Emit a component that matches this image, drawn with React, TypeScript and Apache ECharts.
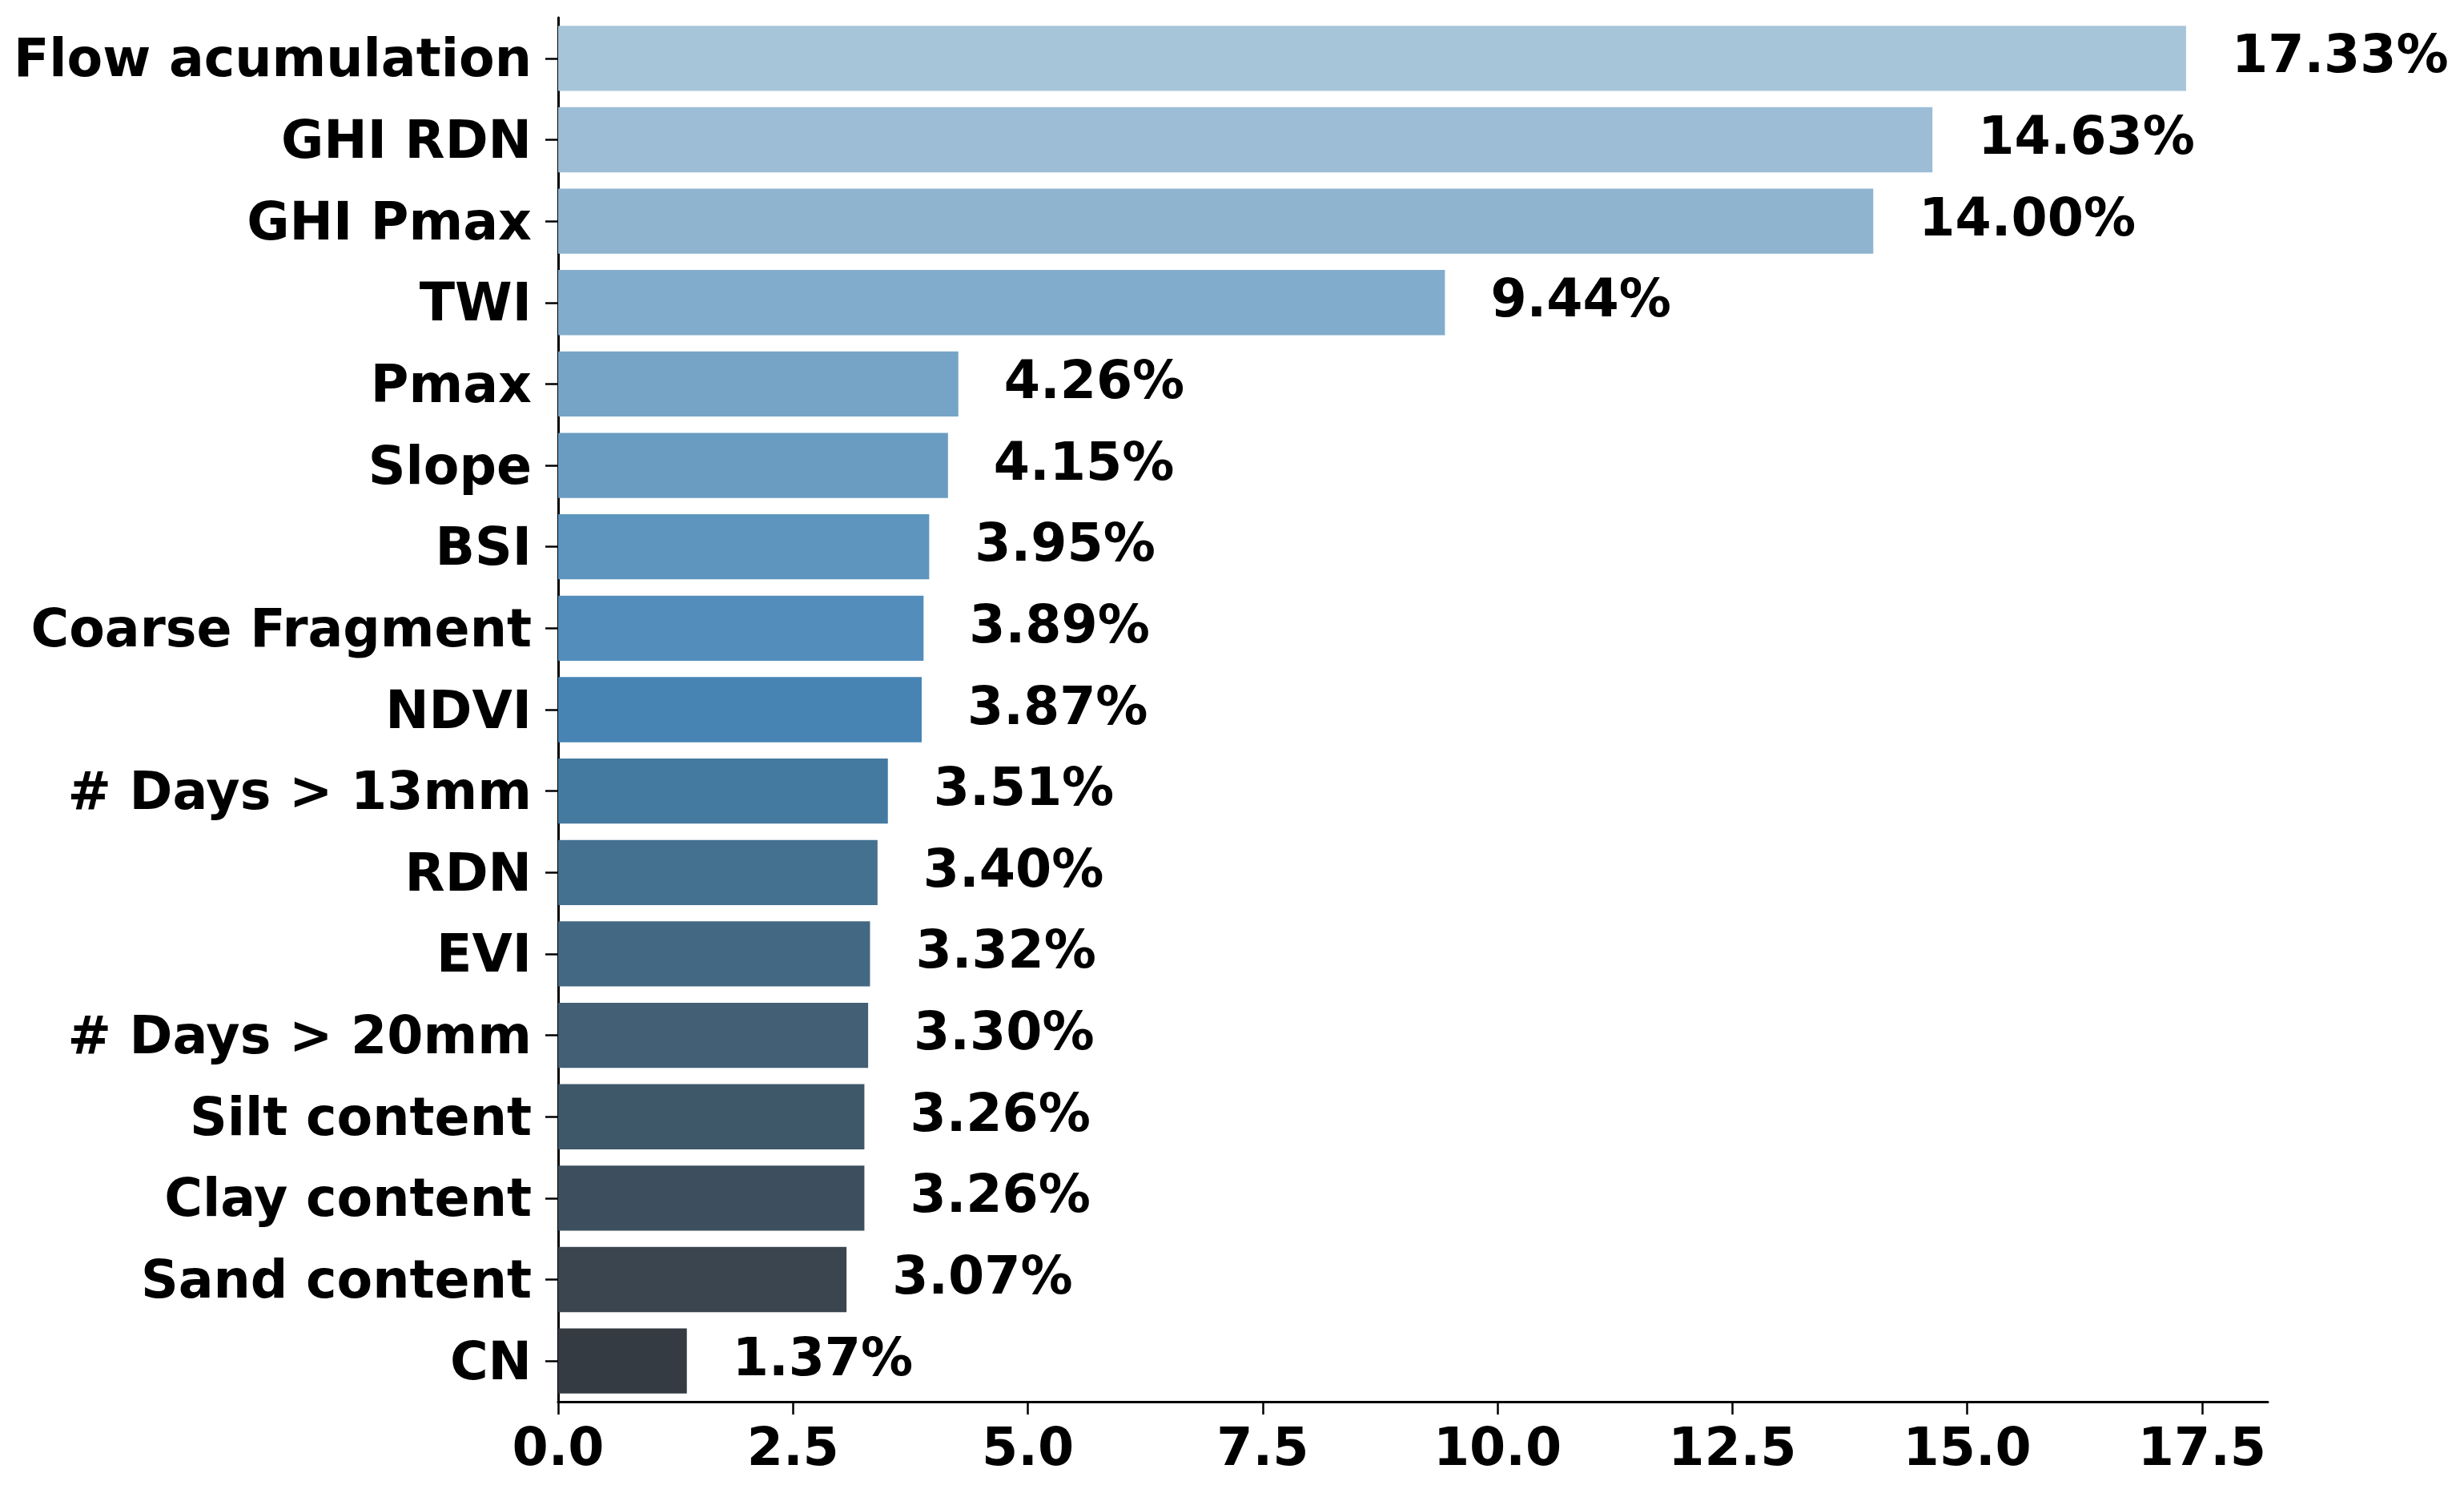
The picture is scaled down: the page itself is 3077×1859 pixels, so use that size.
import React, { useEffect, useRef } from "react";
import * as echarts from "echarts";

const categories = [
  "Flow acumulation",
  "GHI RDN",
  "GHI Pmax",
  "TWI",
  "Pmax",
  "Slope",
  "BSI",
  "Coarse Fragment",
  "NDVI",
  "# Days > 13mm",
  "RDN",
  "EVI",
  "# Days > 20mm",
  "Silt content",
  "Clay content",
  "Sand content",
  "CN",
];

const importance = [
  17.33, 14.63, 14.0, 9.44, 4.26, 4.15, 3.95, 3.89, 3.87, 3.51, 3.4, 3.32, 3.3,
  3.26, 3.26, 3.07, 1.37,
];

const barColors = [
  "#a7c5d9",
  "#9cbdd5",
  "#8fb4cf",
  "#82accb",
  "#76a4c6",
  "#6a9cc2",
  "#5e95bf",
  "#528dbc",
  "#4784b4",
  "#457aa0",
  "#447190",
  "#436883",
  "#425f76",
  "#3f5869",
  "#3d4f5e",
  "#3a454f",
  "#353b42",
];

const xTicks = [0, 2.5, 5, 7.5, 10, 12.5, 15, 17.5];
const xMax = 18.2;

const FONT = "DejaVu Sans";

export default function App() {
  const ref = useRef<HTMLDivElement>(null);

  useEffect(() => {
    document.body.style.margin = "0";
    const chart = echarts.init(ref.current!, null, { renderer: "svg" });
    chart.setOption({
      animation: false,
      backgroundColor: "#ffffff",
      grid: { left: 697, right: 245, top: 22, bottom: 109, containLabel: false },
      xAxis: {
        type: "value",
        min: 0,
        max: xMax,
        splitLine: { show: false },
        axisLine: { show: true, lineStyle: { color: "#000", width: 3 } },
        axisTick: {
          show: true,
          length: 16,
          lineStyle: { color: "#000", width: 2.5 },
          customValues: xTicks,
        },
        axisLabel: {
          customValues: xTicks,
          formatter: (v: number) => v.toFixed(1),
          fontFamily: FONT,
          fontWeight: "bold",
          fontSize: 65,
          color: "#000",
          margin: 24,
        },
      },
      yAxis: {
        type: "category",
        data: categories,
        inverse: true,
        axisLine: { show: true, lineStyle: { color: "#000", width: 3 } },
        axisTick: {
          show: true,
          alignWithLabel: true,
          length: 16,
          lineStyle: { color: "#000", width: 2.5 },
        },
        axisLabel: {
          fontFamily: FONT,
          fontWeight: "bold",
          fontSize: 65,
          color: "#000",
          margin: 33,
        },
        splitLine: { show: false },
      },
      series: [
        {
          type: "bar",
          barCategoryGap: "20%",
          data: importance.map((v, i) => ({
            value: v,
            itemStyle: { color: barColors[i] },
          })),
          label: {
            show: true,
            position: "right",
            distance: 57,
            offset: [0, -5],
            formatter: (p: any) => p.value.toFixed(2) + "%",
            fontFamily: FONT,
            fontWeight: "bold",
            fontSize: 65,
            color: "#000",
          },
        },
      ],
    });
    return () => chart.dispose();
  }, []);

  return <div ref={ref} style={{ width: 3077, height: 1859 }} />;
}
